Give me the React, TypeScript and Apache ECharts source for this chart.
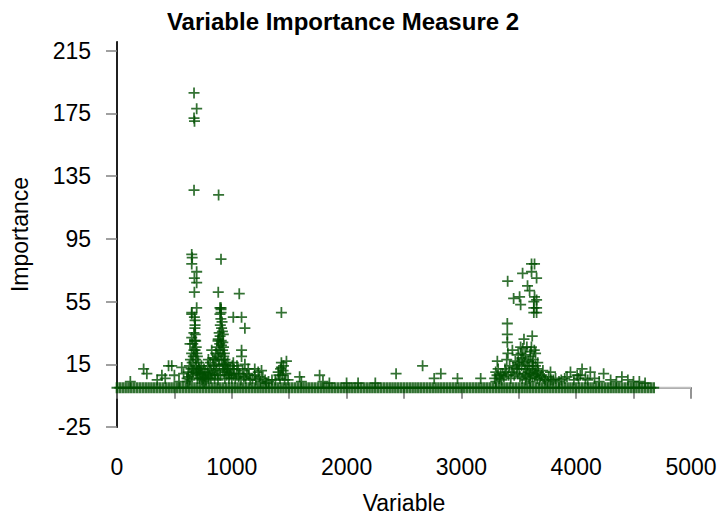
import React, { useEffect, useRef } from "react";
import * as echarts from "echarts";

const titleText = "Variable Importance Measure 2";
const xName = "Variable";
const yName = "Importance";

const xTickValues = [0, 500, 1000, 1500, 2000, 2500, 3000, 3500, 4000, 4500, 5000];
const xLabelValues = [0, 1000, 2000, 3000, 4000, 5000];
const yTickValues = [-25, 15, 55, 95, 135, 175, 215];

// dense band of variables sitting at importance ~0
const baselineVariables = [
  0, 25, 50, 75, 100, 125, 150, 175, 200, 225, 250, 275, 300, 325, 350, 375, 400, 425, 450, 475,
  500, 525, 550, 575, 600, 625, 650, 675, 700, 725, 750, 775, 800, 825, 850, 875, 900, 925, 950, 975,
  1000, 1025, 1050, 1075, 1100, 1125, 1150, 1175, 1200, 1225, 1250, 1275, 1300, 1325, 1350, 1375, 1400, 1425, 1450, 1475,
  1500, 1525, 1550, 1575, 1600, 1625, 1650, 1675, 1700, 1725, 1750, 1775, 1800, 1825, 1850, 1875, 1900, 1925, 1950, 1975,
  2000, 2025, 2050, 2075, 2100, 2125, 2150, 2175, 2200, 2225, 2250, 2275, 2300, 2325, 2350, 2375, 2400, 2425, 2450, 2475,
  2500, 2525, 2550, 2575, 2600, 2625, 2650, 2675, 2700, 2725, 2750, 2775, 2800, 2825, 2850, 2875, 2900, 2925, 2950, 2975,
  3000, 3025, 3050, 3075, 3100, 3125, 3150, 3175, 3200, 3225, 3250, 3275, 3300, 3325, 3350, 3375, 3400, 3425, 3450, 3475,
  3500, 3525, 3550, 3575, 3600, 3625, 3650, 3675, 3700, 3725, 3750, 3775, 3800, 3825, 3850, 3875, 3900, 3925, 3950, 3975,
  4000, 4025, 4050, 4075, 4100, 4125, 4150, 4175, 4200, 4225, 4250, 4275, 4300, 4325, 4350, 4375, 4400, 4425, 4450, 4475,
  4500, 4525, 4550, 4575, 4600, 4625, 4650, 4675,
];
const baselineImportance = 0;

// first peak region (variables ~600-1500)
const leftClusterPoints: [number, number][] = [
  [671, 188], [694, 178], [671, 172], [675, 170], [671, 126], [651, 85], [655, 83], [651, 79],
  [694, 74], [674, 70], [694, 67], [674, 61], [694, 51], [651, 48], [674, 45], [651, 47],
  [680, 43], [680, 40], [651, 32], [636, 28], [680, 24],
  [885, 123], [906, 82], [882, 61], [906, 51], [906, 50], [906, 48], [897, 51], [897, 47],
  [911, 38], [926, 34], [882, 31], [825, 24], [796, 18],
  [1065, 60], [1013, 45], [1085, 45], [1114, 38], [1085, 24], [1085, 20], [1013, 16], [1056, 12],
  [1114, 15], [1143, 12], [1200, 12], [1230, 10], [1259, 11],
  [1432, 48], [1432, 16], [1432, 13], [1447, 11], [1404, 10], [1476, 17],
  [610, 6], [620, 10], [630, 14], [640, 18], [650, 22], [660, 28], [670, 35], [685, 30], [690, 26],
  [700, 20], [710, 16], [720, 12], [730, 8], [740, 5], [650, 8], [670, 12], [690, 9], [700, 6], [760, 4],
  [770, 10], [790, 14], [800, 8], [820, 10], [840, 14], [850, 18], [860, 22], [870, 26], [880, 30],
  [890, 35], [900, 40], [905, 44], [910, 27], [920, 24], [930, 20], [940, 18], [950, 15], [960, 12],
  [970, 10], [980, 8], [1000, 6], [1020, 12], [1040, 9], [1060, 7], [850, 6], [880, 5], [900, 8],
  [920, 12], [940, 6], [1120, 6], [1160, 5], [1200, 8], [1250, 4], [1300, 3], [1350, 5],
  [1420, 6], [1440, 8], [1460, 5],
  [615, 4], [625, 7], [635, 5], [645, 12], [655, 16], [660, 10], [665, 20], [670, 24], [675, 30],
  [678, 38], [682, 34], [686, 18], [690, 14], [695, 22], [698, 11], [705, 9], [712, 13], [718, 6],
  [725, 10], [735, 14], [745, 9], [750, 6], [758, 12], [765, 7], [775, 5], [785, 9], [795, 6],
  [805, 12], [812, 16], [818, 6], [830, 8], [835, 19], [845, 11], [855, 9], [862, 15], [868, 12],
  [875, 20], [878, 8], [885, 18], [888, 24], [892, 14], [895, 28], [898, 33], [902, 22], [908, 30],
  [912, 18], [915, 42], [918, 36], [922, 29], [925, 15], [928, 26], [932, 10], [935, 22], [938, 14],
  [945, 11], [955, 8], [965, 16], [975, 6], [985, 12], [995, 9], [1005, 14], [1015, 8], [1030, 6],
  [1045, 14], [1070, 9], [1080, 5], [1095, 11], [1105, 7], [1130, 9], [1150, 8], [1180, 6], [1210, 5],
  [1240, 7], [1270, 6], [1290, 5], [1320, 4], [1380, 5], [1410, 8], [1425, 12], [1450, 14], [1470, 9],
  [1490, 5],
];

// second peak region (variables ~3300-3700)
const rightClusterPoints: [number, number][] = [
  [3403, 68], [3533, 73], [3611, 79], [3637, 79], [3611, 74], [3655, 70], [3576, 65], [3594, 62],
  [3455, 57], [3507, 58], [3637, 58], [3655, 56], [3655, 51], [3655, 48],
  [3516, 53], [3631, 55], [3631, 51], [3631, 48], [3400, 41], [3400, 34], [3400, 29], [3545, 31],
  [3617, 33], [3444, 24], [3516, 26], [3602, 23], [3646, 22], [3313, 17], [3299, 10], [3342, 8],
  [3487, 16], [3530, 19], [3573, 14], [3617, 16], [3660, 12],
  [3300, 4], [3330, 6], [3360, 9], [3380, 12], [3420, 14], [3440, 10], [3460, 8], [3480, 12],
  [3500, 15], [3520, 22], [3540, 18], [3560, 12], [3580, 10], [3600, 20], [3620, 14], [3640, 8],
  [3660, 6], [3680, 5], [3700, 8], [3720, 6], [3750, 4], [3530, 6], [3560, 5], [3600, 4], [3620, 7],
  [3290, 6], [3310, 8], [3320, 12], [3350, 5], [3370, 7], [3390, 10], [3395, 18], [3405, 22],
  [3410, 8], [3430, 6], [3450, 13], [3470, 17], [3490, 9], [3495, 21], [3505, 12], [3510, 7],
  [3525, 14], [3535, 25], [3545, 9], [3550, 16], [3555, 21], [3565, 8], [3570, 26], [3585, 17],
  [3590, 6], [3595, 12], [3605, 9], [3610, 26], [3625, 18], [3630, 11], [3635, 24], [3645, 14],
  [3650, 9], [3665, 16], [3670, 10], [3690, 7], [3710, 11], [3730, 5],
];

// isolated small values elsewhere
const scatteredPoints: [number, number][] = [
  [116, 4], [232, 12], [260, 9], [391, 8], [449, 14], [477, 14], [564, 13], [350, 5], [420, 6],
  [500, 8], [540, 4], [580, 9], [1591, 7], [1606, 4], [1765, 8], [1794, 4], [1850, 3], [2000, 3],
  [2100, 3], [2250, 3], [2431, 9], [2662, 14], [2763, 6], [2821, 9], [2966, 6], [3168, 6],
  [3776, 10], [3800, 5], [3850, 4], [3900, 6], [3950, 10], [4008, 8], [4036, 8], [4051, 12],
  [4080, 6], [4123, 10], [4239, 9], [4398, 7], [4499, 4],
  [3760, 7], [3780, 5], [3820, 6], [3870, 5], [3920, 7], [3980, 5], [4020, 6], [4100, 5],
  [4160, 6], [4200, 4], [4300, 5], [4350, 4], [4450, 5], [4550, 4], [4600, 3],
];

const plusSymbol = "path://M4.2,0H5.8V4.2H10V5.8H5.8V10H4.2V5.8H0V4.2H4.2Z";
const baselineSymbol = "path://M3.8,0H6.2V4.1H10V5.9H6.2V10H3.8V5.9H0V4.1H3.8Z";
const font = "'Liberation Sans', Arial, sans-serif";
const green = "#004f00";

export default function App() {
  const ref = useRef<HTMLDivElement>(null);
  useEffect(() => {
    if (!ref.current) return;
    const chart = echarts.init(ref.current, undefined, { renderer: "svg" });
    const baselineData = baselineVariables.map((v) => [v, baselineImportance]);
    const raised = [...leftClusterPoints, ...rightClusterPoints, ...scatteredPoints];
    chart.setOption({
      animation: false,
      backgroundColor: "#ffffff",
      textStyle: { fontFamily: font },
      grid: { left: 115, right: 37, top: 42, bottom: 93 },
      graphic: [
        {
          type: "text",
          x: 343,
          y: 21,
          style: {
            text: titleText,
            font: `bold 24px ${font}`,
            fill: "#000",
            textAlign: "center",
            textVerticalAlign: "middle",
          },
        },
      ],
      xAxis: [
        {
          type: "value",
          position: "bottom",
          min: 0,
          max: 5000,
          interval: 500,
          splitLine: { show: false },
          axisLine: { show: true, lineStyle: { color: "#404040", width: 1.5 } },
          axisTick: { show: true, length: 11, customValues: xTickValues, lineStyle: { color: "#707070", width: 1.5 } },
          axisLabel: {
            customValues: xLabelValues,
            formatter: (v: number) => String(v),
            fontSize: 23,
            color: "#000",
            margin: 28,
            fontFamily: font,
          },
          name: xName,
          nameLocation: "middle",
          nameGap: 64,
          nameTextStyle: { fontSize: 23, color: "#000", fontFamily: font },
        },
        {
          type: "value",
          position: "top",
          min: 0,
          max: 5000,
          splitLine: { show: false },
          axisLine: { show: true, lineStyle: { color: "#808080", width: 1.5 } },
          axisTick: { show: false },
          axisLabel: { show: false },
        },
      ],
      yAxis: [
        {
          type: "value",
          position: "left",
          min: -25,
          max: 220.5,
          offset: 2,
          splitLine: { show: false },
          axisLine: { show: true, lineStyle: { color: "#000", width: 1 } },
          axisTick: { show: true, length: 11, customValues: yTickValues, lineStyle: { color: "#808080", width: 1.5 } },
          axisLabel: {
            customValues: yTickValues,
            formatter: (v: number) => String(v),
            fontSize: 23,
            color: "#000",
            margin: 24,
            padding: [10, 0, 0, 0],
            fontFamily: font,
          },
          name: yName,
          nameLocation: "middle",
          nameGap: 84,
          nameTextStyle: { fontSize: 23, color: "#000", fontFamily: font },
        },
        {
          type: "value",
          position: "right",
          min: -25,
          max: 220.5,
          splitLine: { show: false },
          axisLine: { show: true, lineStyle: { color: "#202020", width: 2 } },
          axisTick: { show: false },
          axisLabel: { show: false },
        },
      ],
      series: [
        {
          type: "line",
          data: [[0, 0], [5000, 0]],
          symbol: "none",
          lineStyle: { color: "#c0c0c0", width: 2 },
          z: 1,
          silent: true,
        },
        {
          type: "scatter",
          data: baselineData,
          symbol: baselineSymbol,
          symbolSize: 11,
          itemStyle: { color: green },
          z: 2,
        },
        {
          type: "scatter",
          data: raised,
          symbol: plusSymbol,
          symbolSize: 11,
          itemStyle: { color: green },
          z: 3,
        },
      ],
    });
    return () => chart.dispose();
  }, []);
  return (
    <div
      ref={ref}
      style={{ position: "fixed", left: 0, top: 0, width: 728, height: 520, background: "#fff" }}
    />
  );
}
